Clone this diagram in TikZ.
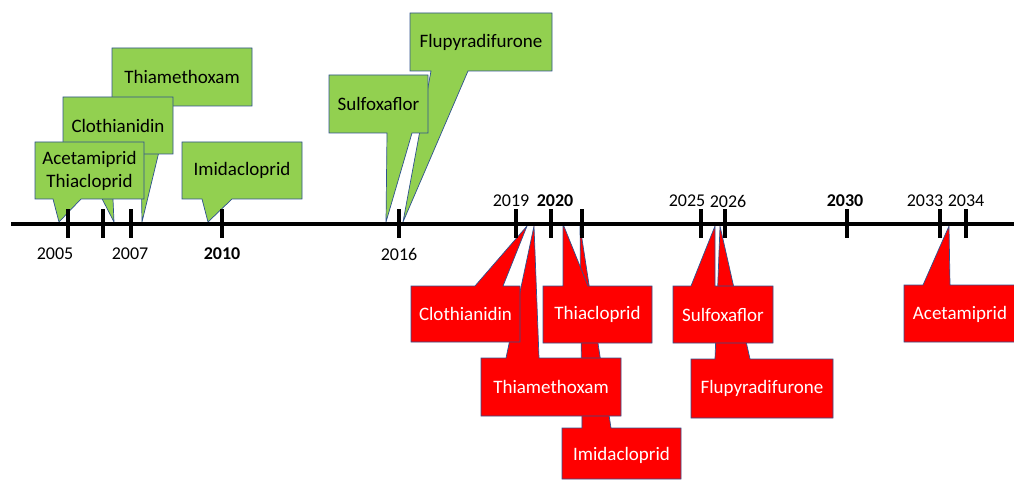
\documentclass[tikz,border=0pt]{standalone}
\usepackage{fontspec}
\setmainfont{Carlito}
\definecolor{cgreen}{HTML}{92D050}
\definecolor{cred}{HTML}{FF0000}
\definecolor{cborder}{HTML}{2F528F}
% #1 style, #2 x1, #3 y1 (top), #4 x2, #5 y2 (bottom), #6 base left, #7 base right, #8 tip x, #9 tip y
\newcommand{\downcallout}[9]{%
  \path[#1] (#2,#3) -- (#4,#3) -- (#4,#5) -- (#7,#5) -- (#8,#9) -- (#6,#5) -- (#2,#5) -- cycle;}
\newcommand{\upcallout}[9]{%
  \path[#1] (#2,#3) -- (#6,#3) -- (#8,#9) -- (#7,#3) -- (#4,#3) -- (#4,#5) -- (#2,#5) -- cycle;}
\tikzset{
  gshape/.style={fill=cgreen, draw=cborder, line width=0.7pt, line join=miter},
  rshape/.style={fill=cred, draw=cborder, line width=0.7pt, line join=miter},
  glabel/.style={text=black, font=\fontsize{19}{23}\selectfont, align=center, inner sep=0pt},
  rlabel/.style={text=white, font=\fontsize{19}{23}\selectfont, align=center, inner sep=0pt},
  yearlabel/.style={text=black, font=\fontsize{18}{21}\selectfont, inner sep=0pt},
  axisline/.style={line width=4.5pt, black},
  tickmark/.style={line width=4pt, black}
}
\begin{document}
\begin{tikzpicture}[x=1pt,y=-1pt]
\useasboundingbox (0,0) rectangle (1014,481);

% ---- green callouts (above axis) ----
\downcallout{gshape}{112}{48}{252}{106}{140}{170}{142}{222}
\node[glabel] (gThiamethoxam) at (182,77) {Thiamethoxam};
\downcallout{gshape}{63}{97}{173}{154}{79}{111}{114}{222}
\node[glabel] (gClothianidin) at (118,125.5) {Clothianidin};
\downcallout{gshape}{35}{142}{144}{199}{53}{81}{59}{222}
\node[glabel] (gAcetamiprid) at (89.5,170.5) {Acetamiprid\\Thiacloprid};
\downcallout{gshape}{182}{142}{302}{199}{202}{232}{208}{222}
\node[glabel] (gImidacloprid) at (242,170.5) {Imidacloprid};
\downcallout{gshape}{410}{13}{552}{71}{431}{468}{403}{222}
\node[glabel] (gFlupyradifurone) at (481,42) {Flupyradifurone};
\downcallout{gshape}{329}{75}{428}{133}{387}{412}{386}{222}
\node[glabel] (gSulfoxaflor) at (378.5,104) {Sulfoxaflor};

% ---- red callouts (below axis) ----
\upcallout{rshape}{562}{428}{681}{479}{582}{611}{580}{226}
\node[rlabel] (rImidacloprid) at (621.5,455) {Imidacloprid};
\upcallout{rshape}{481}{358}{621}{416}{506}{539}{534}{226}
\node[rlabel] (rThiamethoxam) at (551,387) {Thiamethoxam};
\upcallout{rshape}{411}{286}{520}{342}{475}{503}{527}{226}
\node[rlabel] (rClothianidin) at (465.5,314) {Clothianidin};
\upcallout{rshape}{543}{286}{652}{343}{563}{588}{563}{224}
\node[rlabel] (rThiacloprid) at (597.5,314.5) {Thiacloprid};
\upcallout{rshape}{691}{359}{833}{418}{715}{750}{720}{226}
\node[rlabel] (rFlupyradifurone) at (762,388.5) {Flupyradifurone};
\upcallout{rshape}{673}{286}{773}{343}{691}{715}{715}{226}
\node[rlabel] (rSulfoxaflor) at (723,314.5) {Sulfoxaflor};
\upcallout{rshape}{904}{285}{1017}{342}{923}{950}{949}{226}
\node[rlabel] (rAcetamiprid) at (960,314) {Acetamiprid};

% ---- axis ----
\coordinate (axL) at (11,224);
\coordinate (axR) at (1014,224);
\draw[axisline] (axL) -- (axR);
\foreach \tx in {68,103,131,222,399,516,551,582,701,725,847,940,966}
  \draw[tickmark] (\tx,209) -- (\tx,238);

% ---- year labels ----
\node[yearlabel] (y2005) at (55,254) {2005};
\node[yearlabel] (y2007) at (130,254) {2007};
\node[yearlabel] (y2010) at (222,254) {\bfseries 2010};
\node[yearlabel] (y2016) at (399,254) {2016};
\node[yearlabel] (y2019) at (511,201) {2019};
\node[yearlabel] (y2020) at (555,201) {\bfseries 2020};
\node[yearlabel] (y2025) at (687,201) {2025};
\node[yearlabel] (y2026) at (728,201) {2026};
\node[yearlabel] (y2030) at (845,201) {\bfseries 2030};
\node[yearlabel] (y2033) at (925,201) {2033};
\node[yearlabel] (y2034) at (966,201) {2034};
\end{tikzpicture}
\end{document}
